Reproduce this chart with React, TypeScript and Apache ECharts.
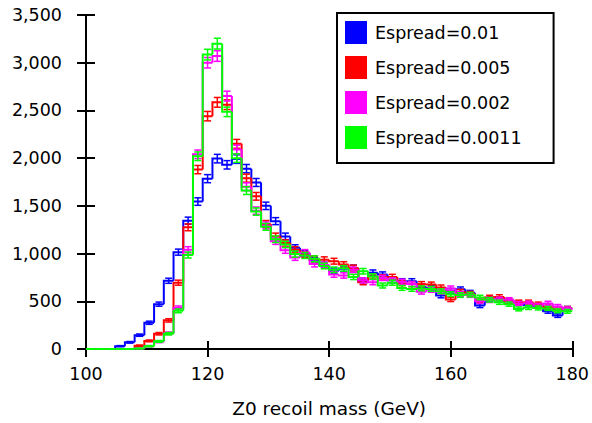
import React, { useEffect, useRef } from "react";
import * as echarts from "echarts";

const X_MIN = 100;
const X_MAX = 180;
const N_BINS = 50;

const seriesNames = ["Espread=0.01", "Espread=0.005", "Espread=0.002", "Espread=0.0011"];
const seriesColors = ["#0000ff", "#ff0000", "#ff00ff", "#00ff00"];

const blue = [0, 0, 0, 30, 70, 145, 275, 470, 715, 1015, 1345, 1545, 1785, 1995, 1930, 1990, 1890, 1745, 1500, 1340, 1180, 1060, 1000, 930, 880, 820, 840, 850, 705, 800, 780, 720, 710, 710, 650, 640, 560, 610, 625, 590, 455, 520, 520, 500, 480, 460, 450, 395, 350, 425];
const red = [0, 0, 0, 0, 0, 35, 85, 160, 300, 695, 1275, 1880, 2440, 2585, 2560, 2150, 1790, 1600, 1310, 1180, 1110, 1040, 990, 945, 935, 920, 885, 850, 700, 760, 750, 755, 690, 680, 680, 675, 645, 520, 600, 580, 512, 540, 545, 500, 490, 490, 470, 440, 420, 425];
const magenta = [0, 0, 0, 0, 0, 5, 30, 75, 165, 430, 1040, 2040, 3000, 3070, 2650, 2090, 1700, 1450, 1295, 1130, 1035, 960, 1010, 890, 880, 780, 770, 830, 720, 700, 745, 720, 705, 680, 600, 620, 600, 635, 575, 565, 500, 510, 520, 515, 475, 480, 455, 478, 445, 420];
const green = [0, 0, 0, 0, 0, 5, 30, 80, 160, 400, 985, 2020, 3085, 3200, 2485, 2000, 1660, 1440, 1280, 1150, 1095, 995, 980, 945, 870, 830, 845, 755, 815, 760, 665, 695, 640, 630, 635, 630, 605, 575, 565, 570, 540, 515, 490, 470, 420, 435, 430, 425, 400, 395];

const allValues = [blue, red, magenta, green];

const FONT = "DejaVu Sans";

function buildData(values: number[]) {
  const w = (X_MAX - X_MIN) / N_BINS;
  return values.map((v, i) => [X_MIN + i * w, X_MIN + (i + 1) * w, v, i === 0 ? 0 : values[i - 1]]);
}

export default function App() {
  const ref = useRef<HTMLDivElement>(null);
  useEffect(() => {
    if (!ref.current) return;
    const chart = echarts.init(ref.current, undefined, { renderer: "svg" });
    const axisLineStyle = { color: "#000", width: 2 };
    const series = allValues.map((vals, si) => ({
      type: "custom",
      name: seriesNames[si],
      data: buildData(vals),
      encode: { x: [0, 1], y: [2, 3] },
      itemStyle: { color: seriesColors[si] },
      renderItem: (params: any, api: any) => {
        const x0 = api.value(0);
        const x1 = api.value(1);
        const v = api.value(2);
        const pv = api.value(3);
        const color = seriesColors[si];
        const pStart = api.coord([x0, pv]);
        const pTop = api.coord([x0, v]);
        const pEnd = api.coord([x1, v]);
        const children: any[] = [
          {
            type: "polyline",
            shape: { points: [pStart, pTop, pEnd] },
            style: { stroke: color, lineWidth: 2, fill: null },
          },
        ];
        if (v > 0) {
          const e = Math.sqrt(v);
          const xc = (x0 + x1) / 2;
          const top = api.coord([xc, v + e]);
          const bot = api.coord([xc, Math.max(0, v - e)]);
          const hw = 3.5;
          const st = { stroke: color, lineWidth: 1.5 };
          children.push(
            { type: "line", shape: { x1: top[0], y1: top[1], x2: bot[0], y2: bot[1] }, style: st },
            { type: "line", shape: { x1: top[0] - hw, y1: top[1], x2: top[0] + hw, y2: top[1] }, style: st },
            { type: "line", shape: { x1: bot[0] - hw, y1: bot[1], x2: bot[0] + hw, y2: bot[1] }, style: st }
          );
        }
        return { type: "group", children };
      },
    }));

    const option: any = {
      animation: false,
      textStyle: { fontFamily: FONT },
      grid: { left: 86, right: 17, top: 15, bottom: 71 },
      legend: {
        orient: "vertical",
        left: 337,
        top: 13,
        padding: [8, 32, 14, 8],
        itemWidth: 22,
        itemHeight: 23,
        itemGap: 12,
        selectedMode: false,
        backgroundColor: "#fff",
        borderColor: "#000",
        borderWidth: 2,
        borderRadius: 0,
        textStyle: { color: "#000", fontSize: 17.5, fontFamily: FONT, padding: [0, 0, 0, 3] },
        data: seriesNames.map((n, i) => ({ name: n, icon: "rect", itemStyle: { color: seriesColors[i] } })),
      },
      xAxis: [
        {
          type: "value",
          min: X_MIN,
          max: X_MAX,
          interval: 20,
          position: "bottom",
          axisLine: { lineStyle: axisLineStyle },
          axisTick: { length: 8, lineStyle: axisLineStyle },
          axisLabel: { color: "#000", fontSize: 17.5, margin: 16, fontFamily: FONT },
          splitLine: { show: false },
          name: "Z0 recoil mass (GeV)",
          nameLocation: "middle",
          nameGap: 50,
          nameTextStyle: { color: "#000", fontSize: 18.5, fontFamily: FONT },
        },
        {
          type: "value",
          min: X_MIN,
          max: X_MAX,
          interval: 20,
          position: "bottom",
          axisLine: { show: false },
          axisTick: { inside: true, length: 8, lineStyle: axisLineStyle },
          axisLabel: { show: false },
          splitLine: { show: false },
        },
      ],
      yAxis: [
        {
          type: "value",
          min: 0,
          max: 3500,
          interval: 500,
          position: "left",
          axisLine: { show: true, lineStyle: axisLineStyle },
          axisTick: { show: true, length: 9, lineStyle: axisLineStyle },
          axisLabel: {
            color: "#000",
            fontSize: 17.5,
            margin: 24,
            fontFamily: FONT,
            formatter: (v: number) => v.toLocaleString("en-US"),
          },
          splitLine: { show: false },
        },
        {
          type: "value",
          min: 0,
          max: 3500,
          interval: 500,
          position: "left",
          axisLine: { show: false },
          axisTick: { show: true, inside: true, length: 9, lineStyle: axisLineStyle },
          axisLabel: { show: false },
          splitLine: { show: false },
        },
      ],
      series,
    };
    chart.setOption(option);
    return () => chart.dispose();
  }, []);
  return <div ref={ref} style={{ width: 592, height: 423, position: "absolute", left: 0, top: 0 }} />;
}
